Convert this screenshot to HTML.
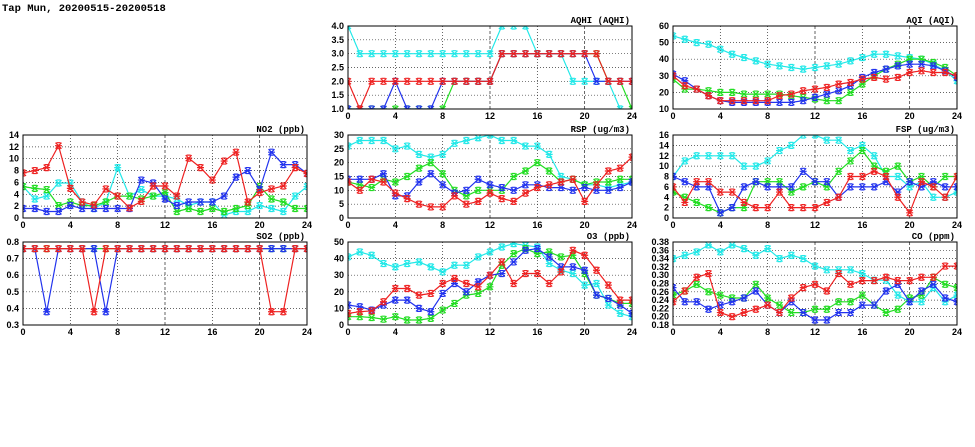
<!DOCTYPE html>
<html><head><meta charset="utf-8"><style>
body{margin:0;background:#fff;width:975px;height:447px;overflow:hidden}
svg{display:block}
text{font-family:"Liberation Sans",sans-serif;font-size:9px;fill:#000}
</style></head><body>
<svg id="s" width="975" height="447" xmlns="http://www.w3.org/2000/svg">
<text x="2" y="11" style="font-size:10.5px;font-family:'Liberation Mono',monospace;font-weight:bold">Tap Mun, 20200515-20200518</text>
</svg>
<script>
const C={c:"#22e8e8",g:"#22dd22",b:"#2233ee",r:"#ee2222"};
const P=[
{t:"AQHI (AQHI)",x:348,y:26,mn:1,mx:4,ticks:[1,1.5,2,2.5,3,3.5,4],fmt:v=>v.toFixed(1),d:{
c:[4,3,3,3,3,3,3,3,3,3,3,3,3,4,4,4,3,3,3,2,2,2,2,1,0.9],
g:[1,1,1,1,1,1,1,1,1,2,2,2,2,3,3,3,3,3,3,3,3,3,2,2,1],
b:[1,1,1,1,2,1,1,1,2,2,2,2,2,3,3,3,3,3,3,3,3,2,2,2,2],
r:[2,1,2,2,2,2,2,2,2,2,2,2,2,3,3,3,3,3,3,3,3,3,2,2,2]}},
{t:"AQI (AQI)",x:673,y:26,mn:10,mx:60,ticks:[10,20,30,40,50,60],fmt:v=>v,d:{
c:[54,52,50,49,46,43,41,39,37,36,35,34,35,36,37,39,41,43,43,42,41,40,37,33,27],
g:[28,22,22,21,20,20,19,19,19,19,18,17,16,15,15,20,25,30,34,37,40,40,38,35,30],
b:[31,27,22,18,15,14,14,14,14,14,14,15,17,19,21,24,29,32,34,36,37,37,36,33,29],
r:[30,24,22,18,15,15,15,15,15,18,19,21,22,23,25,26,28,29,28,29,32,33,32,32,30]}},
{t:"NO2 (ppb)",x:23,y:135,mn:0,mx:14,ticks:[0,2,4,6,8,10,12,14],fmt:v=>v,d:{
c:[5.3,3.2,3.7,5.9,5.9,2.7,1.6,2.7,8.5,3.7,4.8,3.7,3.7,3.2,2.1,2.7,2.7,0.5,1.1,1.1,2.1,1.6,1.1,3.7,5.3],
g:[5.3,5,4.8,2.1,2.7,2.1,2.1,2.7,3.7,3.7,3.2,3.7,4.3,1.1,1.6,1.1,1.6,1.1,1.6,2.1,5.3,3.2,2.7,1.6,1.6],
b:[1.6,1.6,1.1,1.1,2.1,1.6,1.6,1.6,1.6,1.6,6.4,5.9,3.2,2.1,2.7,2.7,2.7,3.7,6.9,8,4.8,11.1,9,9,7.5],
r:[7.6,8,8.5,12.2,5,2.7,2.2,4.9,3.7,1.7,2.8,5.4,5.4,3.7,10.1,8.5,6.4,9.6,11.1,2.7,4.3,4.9,5.4,8.5,7.5]}},
{t:"RSP (ug/m3)",x:348,y:135,mn:0,mx:30,ticks:[0,5,10,15,20,25,30],fmt:v=>v,d:{
c:[26,28,28,28,25,26,23,22,23,27,28,29,30,28,28,26,26,23,15,14,12,12,11,12,13],
g:[13,12,11,14,13,15,18,20,16,10,8,10,10,10,15,17,20,17,13,14,12,13,13,14,14],
b:[14,14,14,16,8,8,13,16,12,9,10,14,12,11,10,12,12,11,11,10,11,10,10,11,13],
r:[13,10,14,13,9,7,5,4,4,8,5,6,9,7,6,9,11,12,13,14,6,12,17,18,22]}},
{t:"FSP (ug/m3)",x:673,y:135,mn:0,mx:16,ticks:[0,2,4,6,8,10,12,14,16],fmt:v=>v,d:{
c:[8,11,12,12,12,12,10,10,11,13,14,16,16,15,15,13,14,12,8,8,6,7,4,4,5],
g:[5,4,3,2,1,2,2,7,7,7,5,6,7,6,9,11,13,10,9,10,7,8,6,8,8],
b:[8,7,6,6,1,2,6,7,6,6,6,9,7,7,4,6,6,6,7,5,7,6,7,6,6],
r:[6,3,7,7,5,5,3,2,2,5,2,2,2,3,4,8,8,9,8,4,1,7,6,4,8]}},
{t:"SO2 (ppb)",x:23,y:242,mn:0.3,mx:0.8,ticks:[0.3,0.4,0.5,0.6,0.7,0.8],fmt:v=>v.toFixed(1),d:{
g:Array(25).fill(0.76),
b:Array.from({length:25},(_,i)=>(i==2||i==7)?0.38:0.76),
r:Array.from({length:25},(_,i)=>(i==6||i==21||i==22)?0.38:0.76)}},
{t:"O3 (ppb)",x:348,y:242,mn:0,mx:50,ticks:[0,10,20,30,40,50],fmt:v=>v,d:{
c:[41,44,42,37,35,37,38,35,32,36,36,41,44,47,49,48,47,37,33,31,24,25,12,7,5],
g:[5,5,4.5,3.5,5,3,3,4,9,13,18,19,23,36,43,46,43,44,41,42,31,18,16,13,13],
b:[12,11,9,12,15,15,10,8,19,25,20,26,30,31,38,45,46,41,35,35,33,18,16,12,7],
r:[7,8,8.5,14,22,22,18,19,25,28,25,23,30,38,25,31,31,25,32,45,42,33,24,15,15]}},
{t:"CO (ppm)",x:673,y:242,mn:0.18,mx:0.38,ticks:[0.18,0.2,0.22,0.24,0.26,0.28,0.3,0.32,0.34,0.36,0.38],fmt:v=>v.toFixed(2),d:{
c:[.34,.348,.356,.373,.356,.373,.364,.348,.364,.34,.348,.34,.322,.313,.313,.313,.304,.288,.288,.252,.236,.236,.27,.236,.252],
g:[.252,.262,.278,.26,.252,.245,.245,.278,.245,.228,.21,.21,.218,.218,.236,.236,.252,.228,.21,.218,.245,.252,.295,.278,.27],
b:[.27,.236,.236,.218,.228,.236,.245,.262,.228,.21,.236,.21,.192,.192,.21,.21,.228,.228,.262,.278,.236,.262,.278,.245,.236],
r:[.236,.262,.295,.304,.21,.2,.21,.218,.228,.21,.245,.27,.278,.262,.304,.278,.287,.287,.295,.287,.287,.295,.295,.322,.322]}}
];
const W=284,H=83;let s="";
for(const p of P){
 const X=i=>p.x+i*W/24, Y=v=>p.y+H-(v-p.mn)/(p.mx-p.mn)*H;
 s+=`<defs><clipPath id="k${p.x}_${p.y}"><rect x="${p.x}" y="${p.y}" width="${W}" height="${H}"/></clipPath></defs>`;
 for(const t of p.ticks){const y=Y(t).toFixed(1);
  if(t!=p.mn&&t!=p.mx)s+=`<line x1="${p.x}" x2="${p.x+W}" y1="${y}" y2="${y}" stroke="#333" stroke-width="0.7" stroke-dasharray="1,2"/>`;
  s+=`<text x="${p.x-4}" y="${+y+3}" text-anchor="end" font-weight="bold">${p.fmt(t)}</text>`;}
 for(let h=0;h<=24;h+=4){const x=X(h);
  if(h>0&&h<24)s+=`<line x1="${x}" x2="${x}" y1="${p.y}" y2="${p.y+H}" stroke="#222" stroke-width="0.7" stroke-dasharray="${h%12==0||h==20?'3,2':'1,2'}"/>`;
  s+=`<text x="${x}" y="${p.y+H+10}" text-anchor="middle" font-weight="bold">${h}</text>`;}
 s+=`<text x="${p.x+W-2}" y="${p.y-3}" text-anchor="end" font-weight="bold" style="font-family:'Liberation Mono',monospace">${p.t}</text>`;
 s+=`<g clip-path="url(#k${p.x}_${p.y})">`;
 for(const k of ["c","g","b","r"]){const d=p.d[k];if(!d)continue;
  const pts=d.map((v,i)=>X(i).toFixed(1)+","+Y(v).toFixed(1)).join(" ");
  s+=`<polyline points="${pts}" fill="none" stroke="${C[k]}" stroke-width="1.2"/>`;
  d.forEach((v,i)=>{const x=X(i),y=Y(v);
   s+=`<path d="M${x-3},${y-3}L${x+3},${y+3}M${x-3},${y+3}L${x+3},${y-3}M${x-3.5},${y}L${x+3.5},${y}M${x-2},${y-3}L${x+2},${y-3}M${x-2},${y+3}L${x+2},${y+3}" stroke="${C[k]}" stroke-width="1.2" fill="none"/>`;});}
 s+=`</g><rect x="${p.x}" y="${p.y}" width="${W}" height="${H}" fill="none" stroke="#000" stroke-width="1"/>`;
}
document.getElementById("s").insertAdjacentHTML("beforeend",s);
</script>
</body></html>
